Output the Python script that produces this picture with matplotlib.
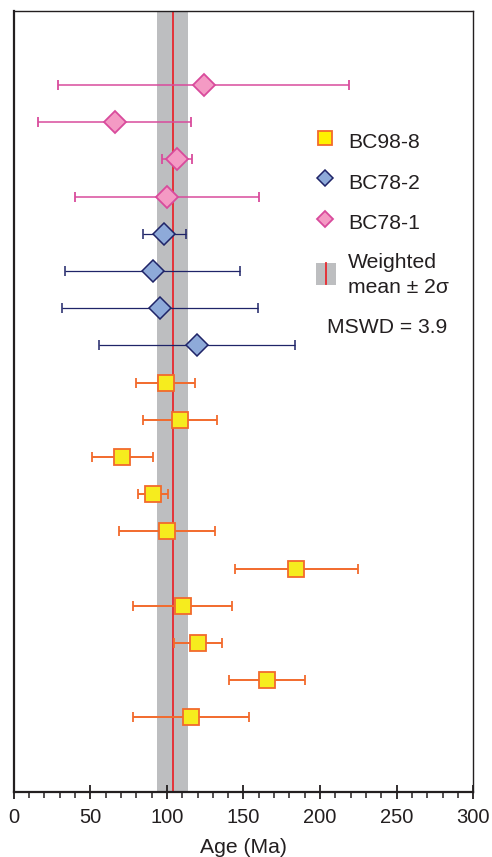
import matplotlib
matplotlib.use("Agg")
import matplotlib.pyplot as plt
from matplotlib.patches import Rectangle
from matplotlib.ticker import MultipleLocator

plt.rcParams['font.family'] = ['Liberation Sans', 'DejaVu Sans']

# ---- data (top to bottom) ----
bc78_1_age = [124.0, 66.0, 106.5, 100.0]
bc78_1_err = [95.0, 50.0, 9.6, 60.0]
bc78_2_age = [98.3, 90.7, 95.7, 119.6]
bc78_2_err = [14.0, 57.0, 64.0, 64.0]
bc98_8_age = [99.2, 108.5, 70.9, 90.9, 100.1, 184.5, 110.3, 120.3, 165.3, 115.7]
bc98_8_err = [19.2, 24.0, 20.0, 10.0, 31.2, 40.0, 32.2, 15.9, 25.0, 38.0]
mean_age = 103.8
mean_err = 10.0
mswd = 3.9

n_all = len(bc78_1_age) + len(bc78_2_age) + len(bc98_8_age)
ypos = list(range(n_all + 1, 1, -1))  # 19 .. 2
y1 = ypos[:4]
y2 = ypos[4:8]
y3 = ypos[8:]

pink_face, pink_edge = '#F49AC4', '#D94B9C'
blue_face, blue_edge = '#8EAAD9', '#1F2468'
yel_face, yel_edge = '#F6EC1E', '#F26A2C'
gray = '#BDBEC0'
red = '#E8282E'

fig = plt.figure(figsize=(4.92, 8.57), dpi=100)
ax = fig.add_axes([0.0278, 0.0762, 0.9342, 0.9113])

ax.axvspan(mean_age - mean_err, mean_age + mean_err, color=gray, zorder=1, lw=0)
ax.axvline(mean_age, color=red, lw=1.3, zorder=2)

ax.errorbar(bc78_1_age, y1, xerr=bc78_1_err, fmt='D', ms=11.3, mfc=pink_face,
            mec=pink_edge, mew=1.3, ecolor=pink_edge, elinewidth=1.1, capsize=3.4,
            capthick=1.1, zorder=3)
ax.errorbar(bc78_2_age, y2, xerr=bc78_2_err, fmt='D', ms=10.8, mfc=blue_face,
            mec=blue_edge, mew=1.1, ecolor=blue_edge, elinewidth=0.9, capsize=3.4,
            capthick=0.9, zorder=3)
ax.errorbar(bc98_8_age, y3, xerr=bc98_8_err, fmt='s', ms=11.5, mfc=yel_face,
            mec=yel_edge, mew=1.3, ecolor=yel_edge, elinewidth=1.4, capsize=3.4,
            capthick=1.4, zorder=3)

ax.set_xlim(0, 300)
ax.set_ylim(0, n_all + 3)
ax.set_yticks([])
ax.xaxis.set_major_locator(MultipleLocator(50))
ax.xaxis.set_minor_locator(MultipleLocator(10))
ax.tick_params(axis='x', which='major', direction='inout', length=10, width=1.3,
               labelsize=14.5, pad=7, color='#231F20', labelcolor='#231F20')
ax.tick_params(axis='x', which='minor', direction='out', length=4.5, width=1.1,
               color='#231F20')
for s in ['left', 'bottom']:
    ax.spines[s].set_linewidth(1.6)
    ax.spines[s].set_color('#231F20')
for s in ['top', 'right']:
    ax.spines[s].set_linewidth(1.0)
    ax.spines[s].set_color('#231F20')
ax.set_xlabel('Age (Ma)', fontsize=15.2, color='#231F20', labelpad=7.5)

# ---- legend (axes fraction) ----
tk = dict(transform=ax.transAxes, fontsize=15.2, color='#231F20', va='baseline', ha='left')
mx, tx = 0.677, 0.728
ax.plot([mx], [0.8365], 's', ms=10.5, mfc='#FFF200', mec=yel_edge, mew=1.3,
        transform=ax.transAxes, clip_on=False, zorder=5)
ax.plot([mx], [0.786], 'D', ms=8.2, mfc=blue_face, mec=blue_edge, mew=1.1,
        transform=ax.transAxes, clip_on=False, zorder=5)
ax.plot([mx], [0.7335], 'D', ms=8.2, mfc=pink_face, mec=pink_edge, mew=1.3,
        transform=ax.transAxes, clip_on=False, zorder=5)
ax.add_patch(Rectangle((0.658, 0.6490), 0.043, 0.0285, transform=ax.transAxes,
                       facecolor=gray, edgecolor='none', zorder=5))
ax.plot([0.679, 0.679], [0.650, 0.6765], color=red, lw=1.3,
        transform=ax.transAxes, zorder=6)
ax.text(tx, 0.8245, 'BC98-8', **tk)
ax.text(tx, 0.7715, 'BC78-2', **tk)
ax.text(tx, 0.7200, 'BC78-1', **tk)
ax.text(tx, 0.6700, 'Weighted', **tk)
ax.text(tx, 0.6385, 'mean ± 2σ', **tk)
ax.text(0.681, 0.5869, f'MSWD = {mswd}', **tk)

fig.savefig('out.png', dpi=100)
